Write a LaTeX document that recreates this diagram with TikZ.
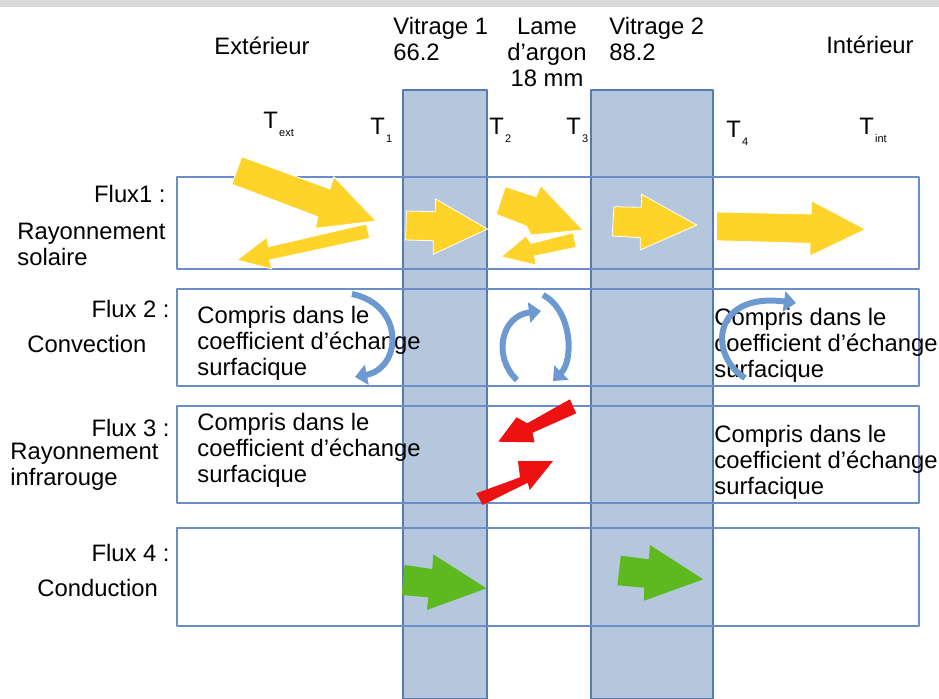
\documentclass[tikz,border=0pt]{standalone}
\usepackage{fontspec}
\setmainfont{Liberation Sans}
\usepackage{tikz}
\usetikzlibrary{arrows.meta}
\definecolor{ColGris}{RGB}{217,217,217}
\definecolor{ColVitre}{RGB}{181,199,221}
\definecolor{ColBord}{RGB}{88,122,178}
\definecolor{ColCadre}{RGB}{108,142,200}
\definecolor{ColSoleil}{RGB}{255,212,42}
\definecolor{ColInfra}{RGB}{238,17,17}
\definecolor{ColCond}{RGB}{94,184,32}
\definecolor{ColBoucle}{RGB}{108,153,207}
\newcommand{\Tind}[1]{T\kern0.6pt\raisebox{-4pt}{\fontsize{5.5}{6}\selectfont #1}}
\newcommand{\compris}{Compris dans le\\coefficient d’échange\\surfacique}

\begin{document}
\begin{tikzpicture}[
  x=0.5pt, y=-0.5pt,
  line join=round,
  every node/.style={font=\fontsize{11.9}{13}\selectfont, inner sep=0pt},
  colonne/.style={fill=ColVitre, draw=ColBord, line width=0.6pt},
  bande/.style={draw=ColCadre, line width=0.6pt},
  bloc/.style={draw=white, line width=0.4pt, line join=miter},
  boucle/.style={-{Triangle[length=6pt,width=10pt]}, line width=3pt, ColBoucle}
]
  \useasboundingbox (0,0) rectangle (939,698);
  \fill[ColGris] (0,0) rectangle (939,7);

  % vitrages
  \draw[colonne] (403,90) rectangle (487,699);
  \draw[colonne] (591,90) rectangle (713,699);

  % bandes des quatre flux
  \foreach \haut/\bas in {177/269, 289/386, 406/503, 528/626}
    \draw[bande] (177,\haut) rectangle (919,\bas);

  % en-tetes (base = derniere ligne)
  \node[anchor=base] (ext) at (262,54) {Extérieur};
  \node[anchor=base west, align=left] (vitrA) at (393,60) {Vitrage 1\\66.2};
  \node[anchor=base, align=center] (lame) at (547,86) {Lame\\d’argon\\18 mm};
  \node[anchor=base west, align=left] (vitrB) at (609,60) {Vitrage 2\\88.2};
  \node[anchor=base] (int) at (870,53) {Intérieur};

  % temperatures
  \node[anchor=base west] (Text) at (263,128) {\Tind{ext}};
  \node[anchor=base west] (T1) at (370,134) {\Tind{1}};
  \node[anchor=base west] (T2) at (489,134) {\Tind{2}};
  \node[anchor=base west] (T3) at (566,134) {\Tind{3}};
  \node[anchor=base west] (T4) at (726,137) {\Tind{4}};
  \node[anchor=base west] (Tint) at (859,134) {\Tind{int}};

  % intitules des flux
  \node[anchor=base east] (f1) at (166,202) {Flux1 :};
  \node[anchor=base west, align=left] (r1) at (17,265) {Rayonnement\\solaire};
  \node[anchor=base east] (f2) at (170,317) {Flux 2 :};
  \node[anchor=base west] (r2) at (27,352) {Convection};
  \node[anchor=base east] (f3) at (170,436) {Flux 3 :};
  \node[anchor=base west, align=left] (r3) at (10,485) {Rayonnement\\infrarouge};
  \node[anchor=base east] (f4) at (170,561) {Flux 4 :};
  \node[anchor=base west] (r4) at (37,596) {Conduction};

  % Flux 1 : rayonnement solaire
  \filldraw[bloc, fill=ColSoleil] (241.7,156.7) -- (330,189) -- (333.8,176.7) -- (376,221)
    -- (315.4,228.3) -- (317.8,216.7) -- (232,184.3) -- cycle;
  \filldraw[bloc, fill=ColSoleil] (366.3,224) -- (369.7,238.3) -- (269.4,260) -- (271.8,269)
    -- (236.9,260) -- (266.9,237.3) -- (268.4,246.7) -- cycle;
  \filldraw[bloc, fill=ColSoleil] (406.5,211) -- (435.2,211.7) -- (435.6,199) -- (487.5,229)
    -- (433.2,254.3) -- (433.2,240.7) -- (405.6,240) -- cycle;
  \filldraw[bloc, fill=ColSoleil] (505.4,186.7) -- (536,196.7) -- (540.8,185.7) -- (583,230)
    -- (531.1,235) -- (526.3,226) -- (496.2,214.3) -- cycle;
  \filldraw[bloc, fill=ColSoleil] (573.3,232.7) -- (576.2,247.3) -- (534.5,256) -- (536,265)
    -- (501.1,256.7) -- (526,236) -- (531,243.5) -- cycle;
  \filldraw[bloc, fill=ColSoleil] (614,206.7) -- (641.2,207.3) -- (641.6,194.3) -- (696.9,225)
    -- (640.2,250) -- (640.2,237.7) -- (612.1,236) -- cycle;
  \filldraw[bloc, fill=ColSoleil] (716.8,212) -- (811.3,214) -- (811.3,200.7) -- (865.6,229.3)
    -- (809.9,256) -- (809.9,243.3) -- (716.3,240.7) -- cycle;

  % Flux 2 : convection
  \node[anchor=base west, align=left] (c2g) at (197,375) {\compris};
  \node[anchor=base west, align=left] (c2d) at (714,377) {\compris};
  \draw[boucle] (352,294) .. controls (405,305) and (402,368) .. (355,377);
  \draw[boucle] (517,380) .. controls (493,358) and (500,316) .. (541,311);
  \draw[boucle] (543,295) .. controls (572,310) and (574,360) .. (553,381);
  \draw[boucle] (745,378) .. controls (708,355) and (712,292) .. (796,303);

  % Flux 3 : rayonnement infrarouge
  \node[anchor=base west, align=left] (c3g) at (197,482) {\compris};
  \node[anchor=base west, align=left] (c3d) at (714,494) {\compris};
  \fill[ColInfra] (569.9,399.3) -- (576.2,413.3) -- (532.6,432.7) -- (534.5,442.3)
    -- (498.2,441.7) -- (516.6,417.3) -- (527.2,423.3) -- cycle;
  \fill[ColInfra] (482.7,505) -- (476.3,493.3) -- (520,477.3) -- (518,461)
    -- (553,461) -- (529.7,490) -- (527.7,482.7) -- cycle;

  % Flux 4 : conduction
  \fill[ColCond] (404.6,565) -- (432.2,569) -- (433.2,554.3) -- (486.5,588.3)
    -- (426.9,610) -- (428.4,597.3) -- (401.7,595) -- cycle;
  \fill[ColCond] (620.8,555.7) -- (648.9,559.3) -- (649.9,545) -- (703.2,579.3)
    -- (644.1,600.7) -- (644.1,587.7) -- (617.4,585.3) -- cycle;
\end{tikzpicture}
\end{document}
